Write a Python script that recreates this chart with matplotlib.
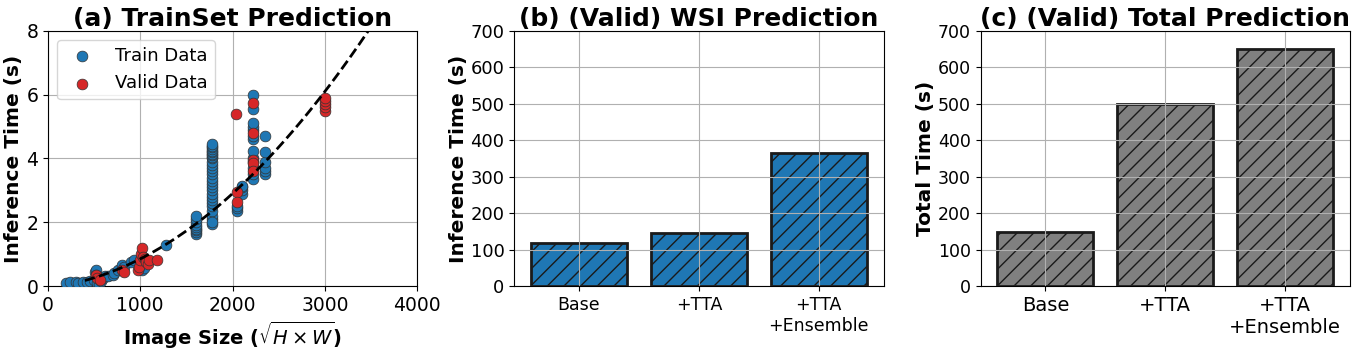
import numpy as np
import matplotlib.pyplot as plt

# (a) scatter data: image size vs inference time
train_x = [200, 240, 300, 330, 380, 420, 460, 500, 510, 520, 520, 530, 550, 580, 600, 620,
           650, 700, 720, 760, 800, 820, 900, 930, 1000, 1020, 1040, 1280,
           1600, 1600, 1600, 1600, 1600, 1600, 1600, 1600, 1600,
           1780, 1780, 1780, 1780, 1780, 1780, 1780, 1780, 1780, 1780, 1780, 1780,
           1780, 1780, 1780, 1780, 1780, 1780, 1780, 1780, 1780, 1780, 1780, 1780,
           1780, 1780, 1780, 1780, 1780, 1780,
           2050, 2050, 2050, 2100, 2100, 2100, 2100,
           2220, 2220, 2220, 2220, 2220, 2220, 2220, 2220, 2220, 2220, 2220, 2220, 2220,
           2350, 2350, 2350, 2350, 2350, 2350]
train_y = [0.1, 0.12, 0.12, 0.1, 0.12, 0.13, 0.15, 0.2, 0.45, 0.5, 0.35, 0.1, 0.05, 0.15, 0.25, 0.3,
           0.3, 0.35, 0.4, 0.5, 0.65, 0.6, 0.75, 0.8, 0.65, 0.5, 0.55, 1.3,
           1.62, 1.7, 1.75, 1.8, 1.85, 1.9, 2.0, 2.1, 2.2,
           1.95, 2.1, 2.2, 2.35, 2.5, 2.6, 2.7, 2.8, 2.9, 3.0, 3.1, 3.2,
           3.3, 3.4, 3.5, 3.6, 3.7, 3.8, 3.9, 4.0, 4.05, 4.1, 4.15, 4.2,
           4.25, 4.3, 4.35, 4.4, 4.45, 2.0,
           2.35, 2.45, 2.5, 2.9, 3.0, 3.1, 3.15,
           3.35, 3.5, 3.7, 3.9, 4.0, 4.25, 4.6, 4.7, 4.9, 5.0, 5.1, 5.55, 6.0,
           3.5, 3.6, 3.7, 3.9, 4.2, 4.7]
valid_x = [520, 530, 560, 800, 820, 980, 990, 1000, 1010, 1020, 1030, 1050, 1060, 1080, 1100, 1180,
           2040, 2050, 2050, 2220, 2220, 2220, 2220, 2220, 3000, 3000, 3000, 3000, 3000]
valid_y = [0.35, 0.25, 0.2, 0.5, 0.45, 0.5, 0.6, 0.8, 1.0, 1.2, 0.9, 0.85, 0.75, 0.7, 0.8, 0.8,
           5.4, 2.95, 2.65, 5.75, 4.8, 3.95, 3.85, 3.6, 5.5, 5.6, 5.7, 5.8, 5.9]
# quadratic fit coefficients
fit_coef = [5.75e-7, 3.25e-4, -0.05]
fit_range = [400, 4000]

# (b) and (c) bar data
methods = ['Base', '+TTA', '+TTA\n+Ensemble']
wsi_time = [118, 145, 365]
total_time = [148, 500, 650]

fig, axes = plt.subplots(1, 3, figsize=(13.58, 3.52), dpi=100)
plt.subplots_adjust(left=0.0353, right=0.994, top=0.912, bottom=0.1875, wspace=0.263)

ax = axes[0]
ax.scatter(train_x, train_y, s=60, color='tab:blue', edgecolors='#333333', linewidths=0.5,
           label='Train Data', zorder=3)
ax.scatter(valid_x, valid_y, s=60, color='tab:red', edgecolors='#333333', linewidths=0.5,
           label='Valid Data', zorder=3)
xs = np.linspace(fit_range[0], fit_range[1], 200)
ax.plot(xs, np.polyval(fit_coef, xs), '--', color='black', linewidth=2, zorder=4)
ax.set_xlim(0, 4000)
ax.set_ylim(0, 8)
ax.set_xticks([0, 1000, 2000, 3000, 4000])
ax.set_yticks([0, 2, 4, 6, 8])
ax.grid(True)
ax.tick_params(labelsize=13.5)
ax.set_title('(a) TrainSet Prediction', fontsize=18, fontweight='bold', pad=3)
ax.set_xlabel(r'Image Size ($\sqrt{H \times W}$)', fontsize=14, fontweight='bold')
ax.set_ylabel('Inference Time (s)', fontsize=14.5, fontweight='bold', labelpad=2)
ax.legend(loc='upper left', fontsize=13)

ax = axes[1]
ax.bar(methods, wsi_time, color='tab:blue', edgecolor='#1a1a1a', linewidth=2, hatch='//')
ax.set_ylim(0, 700)
ax.grid(True)
ax.tick_params(axis='y', labelsize=13)
ax.tick_params(axis='x', labelsize=12.5)
ax.set_title('(b) (Valid) WSI Prediction', fontsize=18, fontweight='bold', pad=3)
ax.set_ylabel('Inference Time (s)', fontsize=14.5, fontweight='bold', labelpad=2)

ax = axes[2]
ax.bar(methods, total_time, color='gray', edgecolor='#1a1a1a', linewidth=2, hatch='//')
ax.set_ylim(0, 700)
ax.grid(True)
ax.tick_params(axis='y', labelsize=12.5)
ax.tick_params(axis='x', labelsize=14)
ax.set_title('(c) (Valid) Total Prediction', fontsize=18, fontweight='bold', pad=3)
ax.set_ylabel('Total Time (s)', fontsize=14.5, fontweight='bold', labelpad=2)

plt.savefig('out.png')
